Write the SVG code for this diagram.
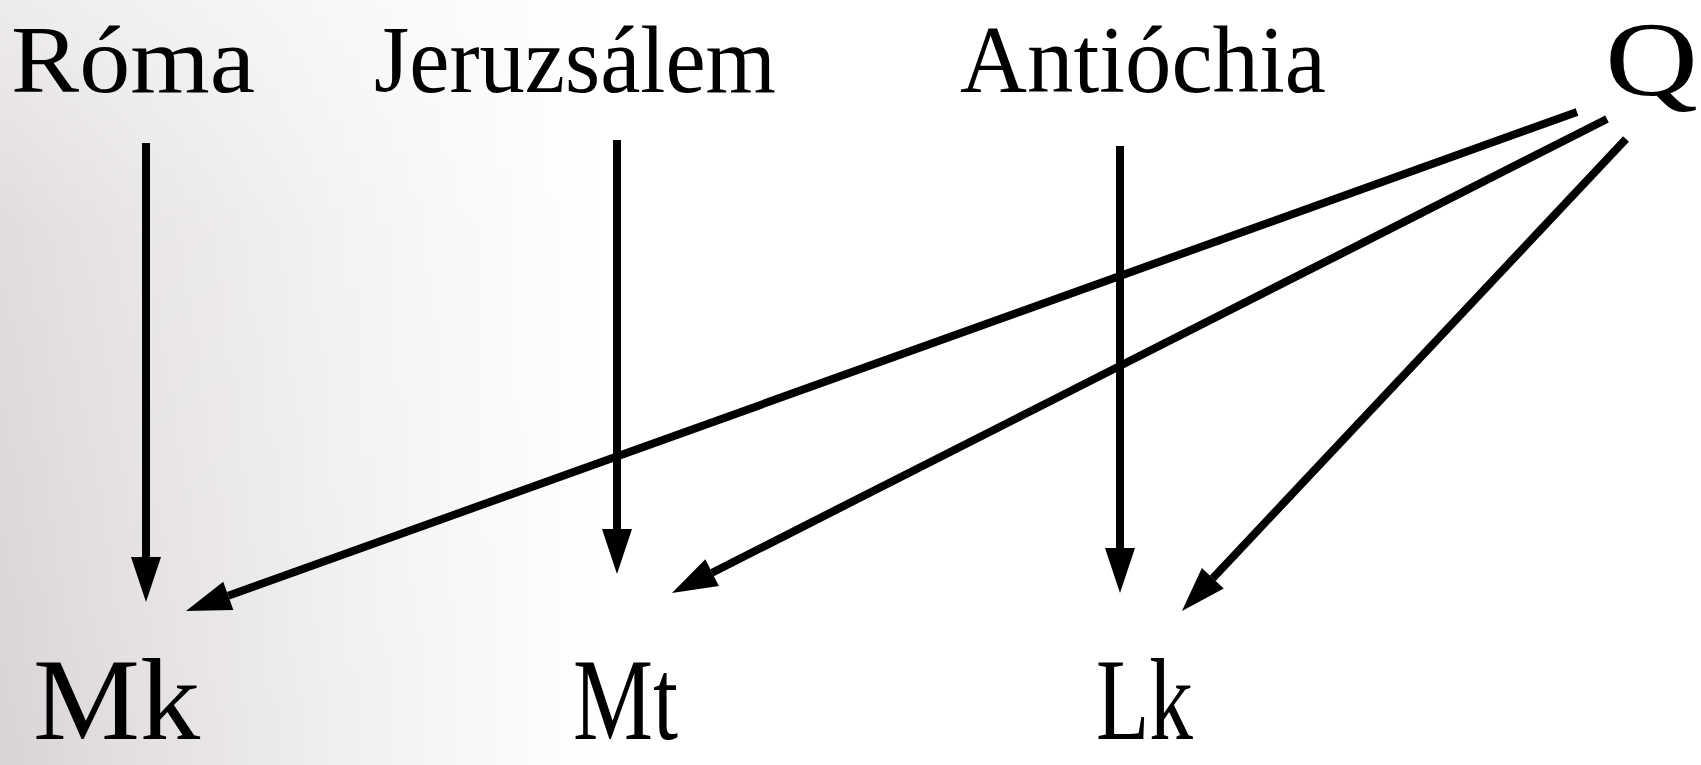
<svg xmlns="http://www.w3.org/2000/svg" width="1701" height="765" viewBox="0 0 1701 765">
  <defs>
    <linearGradient id="bg" x1="0" y1="0" x2="1" y2="0">
      <stop offset="0" stop-color="#d9d4d3"/>
      <stop offset="0.08" stop-color="#e3e0df"/>
      <stop offset="0.2" stop-color="#f1f0ef"/>
      <stop offset="0.35" stop-color="#ffffff"/>
    </linearGradient>
    <linearGradient id="bgv" x1="0" y1="0" x2="0" y2="1">
      <stop offset="0" stop-color="#ffffff" stop-opacity="0.55"/>
      <stop offset="0.3" stop-color="#ffffff" stop-opacity="0.2"/>
      <stop offset="1" stop-color="#ffffff" stop-opacity="0"/>
    </linearGradient>
    <marker id="ah" markerUnits="userSpaceOnUse" viewBox="0 0 45 30" markerWidth="45" markerHeight="30" refX="0" refY="15" orient="auto" overflow="visible">
      <path d="M0,0 L45,15 L0,30 z" fill="#000"/>
    </marker>
    <style>
      .lbl { font-family: "Liberation Serif", "DejaVu Serif", serif; fill: #000; }
      .top { font-size: 95px; }
      .bot { font-size: 116px; }
      .edge { stroke: #000; stroke-width: 8; fill: none; marker-end: url(#ah); }
    </style>
  </defs>
  <rect x="0" y="0" width="1701" height="765" fill="url(#bg)"/>
  <rect x="0" y="0" width="700" height="765" fill="url(#bgv)"/>

  <g id="n-roma"><text class="lbl top" x="11" y="92" textLength="244" lengthAdjust="spacingAndGlyphs">Róma</text></g>
  <g id="n-jeruzsalem"><text class="lbl top" x="374" y="92" textLength="402" lengthAdjust="spacingAndGlyphs">Jeruzsálem</text></g>
  <g id="n-antiochia"><text class="lbl top" x="960" y="92" textLength="366" lengthAdjust="spacingAndGlyphs">Antióchia</text></g>
  <g id="n-q"><text class="lbl" style="font-size:105px" x="1605" y="95" textLength="93" lengthAdjust="spacingAndGlyphs">Q</text></g>
  <g id="n-mk"><text class="lbl bot" x="33" y="739" textLength="167" lengthAdjust="spacingAndGlyphs">Mk</text></g>
  <g id="n-mt"><text class="lbl bot" x="573" y="739" textLength="105" lengthAdjust="spacingAndGlyphs">Mt</text></g>
  <g id="n-lk"><text class="lbl bot" x="1096" y="739" textLength="97" lengthAdjust="spacingAndGlyphs">Lk</text></g>

  <g id="connectors">
    <path class="edge" d="M146,143 L146,557"/>
    <path class="edge" d="M617,140 L617,529"/>
    <path class="edge" d="M1120,146 L1120,548"/>
    <path class="edge" d="M1577,112 L228.3,595.8"/>
    <path class="edge" d="M1607,119 L712.1,572.7"/>
    <path class="edge" d="M1626,139 L1212.8,578.2"/>
  </g>
</svg>
